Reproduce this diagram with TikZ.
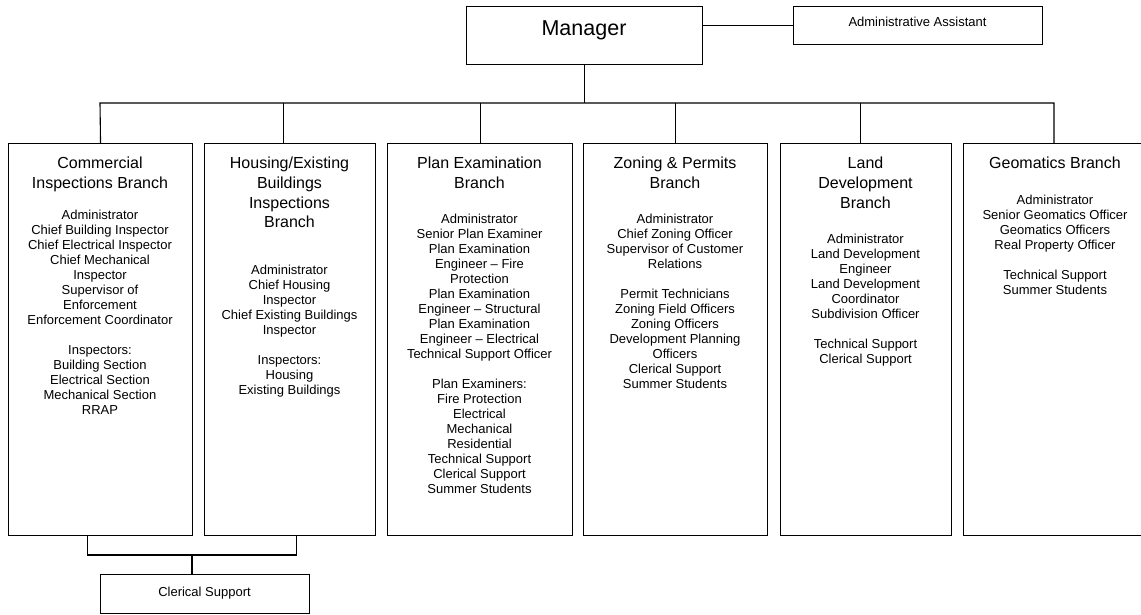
\documentclass[tikz,border=0pt]{standalone}
\usepackage{fontspec}
\setmainfont{Liberation Sans}
\begin{document}
\begin{tikzpicture}[x=1pt,y=-1pt,
  box/.style={draw, line width=1.1pt, inner sep=0pt, anchor=north west},
  link/.style={line width=1.1pt},
  ttl/.style={font=\fontsize{16}{19.7}\selectfont, align=center, anchor=north, inner sep=0pt},
  bdy/.style={font=\fontsize{13}{15}\selectfont, align=center, anchor=north, inner sep=0pt},
  lbl/.style={font=\fontsize{13}{15}\selectfont, anchor=base, inner sep=0pt},
  big/.style={font=\fontsize{21.5}{25}\selectfont, anchor=base, inner sep=0pt}]
\useasboundingbox (0,0) rectangle (1141,614);
\clip (0,0) rectangle (1141,614);

% top level
\node[box, minimum width=236pt, minimum height=58pt] (mgr) at (466,6) {};
\node[big] (mgrt) at (584,35.2) {Manager};
\node[box, minimum width=249pt, minimum height=38pt] (aa) at (793,6) {};
\node[lbl] (aat) at (917.5,26.7) {Administrative Assistant};

% branch boxes
\node[box, minimum width=184pt, minimum height=392pt] (b1) at (8,143) {};
\node[box, minimum width=171pt, minimum height=392pt] (b2) at (204,143) {};
\node[box, minimum width=185pt, minimum height=392pt] (b3) at (387,143) {};
\node[box, minimum width=184pt, minimum height=392pt] (b4) at (583,143) {};
\node[box, minimum width=171pt, minimum height=392pt] (b5) at (780,143) {};
\node[box, minimum width=184pt, minimum height=392pt] (b6) at (963,143) {};

% shared clerical support
\node[box, minimum width=209pt, minimum height=39pt] (cs) at (100,574) {};
\node[lbl] (cst) at (204.5,596.7) {Clerical Support};

% branch titles
\node[ttl] (t1) at (100,154.9) {\strut Commercial\\Inspections Branch};
\node[ttl] (t2) at (289.5,154.9) {\strut Housing/Existing\\Buildings\\Inspections\\Branch};
\node[ttl] (t3) at (479.5,154.9) {\strut Plan Examination\\Branch};
\node[ttl] (t4) at (675,154.9) {\strut Zoning \& Permits\\Branch};
\node[ttl] (t5) at (865.5,154.9) {\strut Land\\Development\\Branch};
\node[ttl] (t6) at (1055,154.9) {\strut Geomatics Branch};

% branch staff
\node[bdy] (s1) at (100,209.2) {\strut Administrator\\Chief Building Inspector\\Chief Electrical Inspector\\Chief Mechanical\\Inspector\\Supervisor of\\Enforcement\\Enforcement Coordinator\\[15pt]Inspectors:\\Building Section\\Electrical Section\\Mechanical Section\\RRAP};
\node[bdy] (s2) at (289.5,264.2) {\strut Administrator\\Chief Housing\\Inspector\\Chief Existing Buildings\\Inspector\\[15pt]Inspectors:\\Housing\\Existing Buildings};
\node[bdy] (s3) at (479.5,213.2) {\strut Administrator\\Senior Plan Examiner\\Plan Examination\\Engineer -- Fire\\Protection\\Plan Examination\\Engineer -- Structural\\Plan Examination\\Engineer -- Electrical\\Technical Support Officer\\[15pt]Plan Examiners:\\Fire Protection\\Electrical\\Mechanical\\Residential\\Technical Support\\Clerical Support\\Summer Students};
\node[bdy] (s4) at (675,213.2) {\strut Administrator\\Chief Zoning Officer\\Supervisor of Customer\\Relations\\[15pt]Permit Technicians\\Zoning Field Officers\\Zoning Officers\\Development Planning\\Officers\\Clerical Support\\Summer Students};
\node[bdy] (s5) at (865.5,233.2) {\strut Administrator\\Land Development\\Engineer\\Land Development\\Coordinator\\Subdivision Officer\\[15pt]Technical Support\\Clerical Support};
\node[bdy] (s6) at (1055,194.2) {\strut Administrator\\Senior Geomatics Officer\\Geomatics Officers\\Real Property Officer\\[15pt]Technical Support\\Summer Students};

% connectors
\coordinate (busL) at (100,103);
\coordinate (busR) at (1054,103);
\coordinate (jn) at (192,555);
\draw[link] (aa.west) -- (aa.west -| mgr.east);
\draw[link] (mgr.south) -- (mgr.south |- busL);
\draw[link] (b1.north) -- (busL) -- (busR) -- (busR |- b6.north);
\draw[link] ([xshift=-6.5pt]b2.north) -- ([xshift=-6.5pt]b2.north |- busL);
\draw[link] (b3.north) -- (b3.north |- busL);
\draw[link] (b4.north) -- (b4.north |- busL);
\draw[link] ([xshift=-5.5pt]b5.north) -- ([xshift=-5.5pt]b5.north |- busL);
\draw[link] ([xshift=-13pt]b1.south) |- (jn) -| ([xshift=6.5pt]b2.south);
\draw[link] (jn) -- (jn |- cs.north);
\end{tikzpicture}
\end{document}
